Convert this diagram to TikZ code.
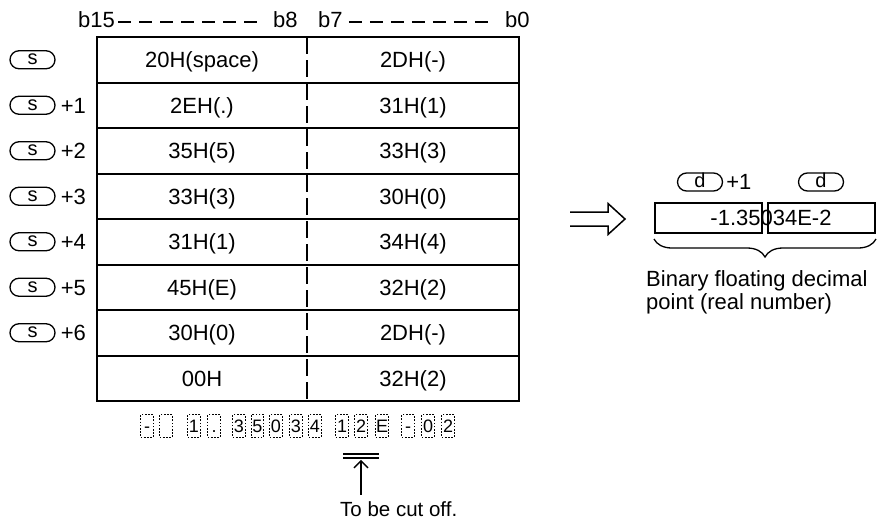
\documentclass[tikz,border=0pt]{standalone}
\usepackage{fontspec}
\setmainfont{Liberation Sans}
\usetikzlibrary{arrows.meta, positioning, decorations.pathreplacing}

\begin{document}
\begin{tikzpicture}[x=1pt, y=-1pt,
        every node/.style={inner sep=0pt, font=\fontsize{22}{24}\selectfont,
                           text height=15.75pt, text depth=0pt},
        frame/.style={line width=2pt},
        bitdash/.style={line width=1.5pt, dash pattern=on 13pt off 8pt},
        devtag/.style={draw, line width=1.3pt, rounded corners=9pt,
                       minimum width=45pt, minimum height=18pt,
                       text height=10pt, font=\fontsize{20}{22}\selectfont},
        digitbox/.style={draw, line width=1.2pt, dash pattern=on 1.6pt off 1.6pt,
                         minimum width=12.5pt, minimum height=22.5pt,
                         text height=13pt, font=\fontsize{18}{20}\selectfont},
        resbox/.style={draw, line width=2pt, minimum width=107pt, minimum height=30pt},
        >=Stealth
    ]
        \useasboundingbox (0,0) rectangle (877,525);

        % bit numbers
        \node[anchor=west] (b15) at (78,20) {b15};
        \node[anchor=west] (b8) at (273,20) {b8};
        \node[anchor=west] (b7) at (318,20) {b7};
        \node[anchor=west] (b0) at (505,20) {b0};
        \draw[bitdash] ([xshift=3pt,yshift=-2pt]b15.east) -- ([xshift=-10pt,yshift=-2pt]b8.west);
        \draw[bitdash] ([xshift=6pt,yshift=-2pt]b7.east) -- ([xshift=-10pt,yshift=-2pt]b0.west);

        % source words
        \draw[frame] (97,37) rectangle (519,401);
        \foreach \r in {1,...,7}
            \draw[frame] (97,{37+45.5*\r}) -- (519,{37+45.5*\r});
        \draw[line width=2pt, dash pattern=on 17pt off 6pt] (307,37) -- (307,401);
        \foreach \hi/\lo [count=\r from 0] in {{20H(space)}/{2DH(-)}, {2EH(.)}/{31H(1)},
                {35H(5)}/{33H(3)}, {33H(3)}/{30H(0)}, {31H(1)}/{34H(4)},
                {45H(E)}/{32H(2)}, {30H(0)}/{2DH(-)}, {00H}/{32H(2)}}{
            \node (hi\r) at (202,{59.75+45.5*\r}) {\hi};
            \node (lo\r) at (413,{59.75+45.5*\r}) {\lo};
        }
        \node[devtag] (s0) at (32.5,59.75) {s};
        \foreach \r in {1,...,6}{
            \node[devtag] (s\r) at (32.5,{59.75+45.5*\r}) {s};
            \node[right=5pt of s\r] (off\r) {+\r};
        }

        % character string
        \foreach \ch/\xx [count=\i] in {{-}/147, { }/166, 1/194, ./214, 3/239,
                5/257.5, 0/276, 3/296, 4/315, 1/342, 2/361, E/382,
                {-}/408, 0/428, 2/448}
            \node[digitbox] (g\i) at (\xx,426) {\ch};
        \node[anchor=west, font=\fontsize{20.5}{22}\selectfont] (cut) at (340,509) {To be cut off.};
        \draw[line width=1.5pt] ([xshift=-18pt,yshift=-16pt]g11.south) -- ([xshift=18pt,yshift=-16pt]g11.south);
        \draw[line width=1.5pt] ([xshift=-18pt,yshift=-20pt]g11.south) -- ([xshift=18pt,yshift=-20pt]g11.south);
        \draw[line width=1.5pt, -{Straight Barb[length=7pt, width=14pt]}]
            (g11 |- cut.north) ++(0,-6) -- ([yshift=-22pt]g11.south);

        % conversion
        \coordinate (conv) at (570,219);
        \draw[line width=1.5pt] (conv) ++(0,-7) -- ++(38,0) -- ++(0,-8.5) -- ++(17,15.5)
            -- ++(-17,15.5) -- ++(0,-8.5) -- ++(-38,0);

        % result
        \node[resbox] (resHi) at (708.5,218) {};
        \node[resbox] (resLo) at (821.5,218) {};
        \node (resval) at (771,218) {-1.35034E-2};
        \node[devtag] (d1) at (700,182) {d};
        \node[right=3pt of d1] (d1off) {+1};
        \node[devtag] (d0) at (821,182) {d};
        \draw[line width=1.3pt, decorate, decoration={brace, mirror, amplitude=18pt}]
            ([yshift=-5pt]resHi.south west) -- ([yshift=-5pt]resLo.south east);
        \node[anchor=north west, align=left, font=\fontsize{22}{23}\selectfont,
              text height=, text depth=] (caption) at (646,270)
            {Binary floating decimal\\point (real number)};
    \end{tikzpicture}
\end{document}
